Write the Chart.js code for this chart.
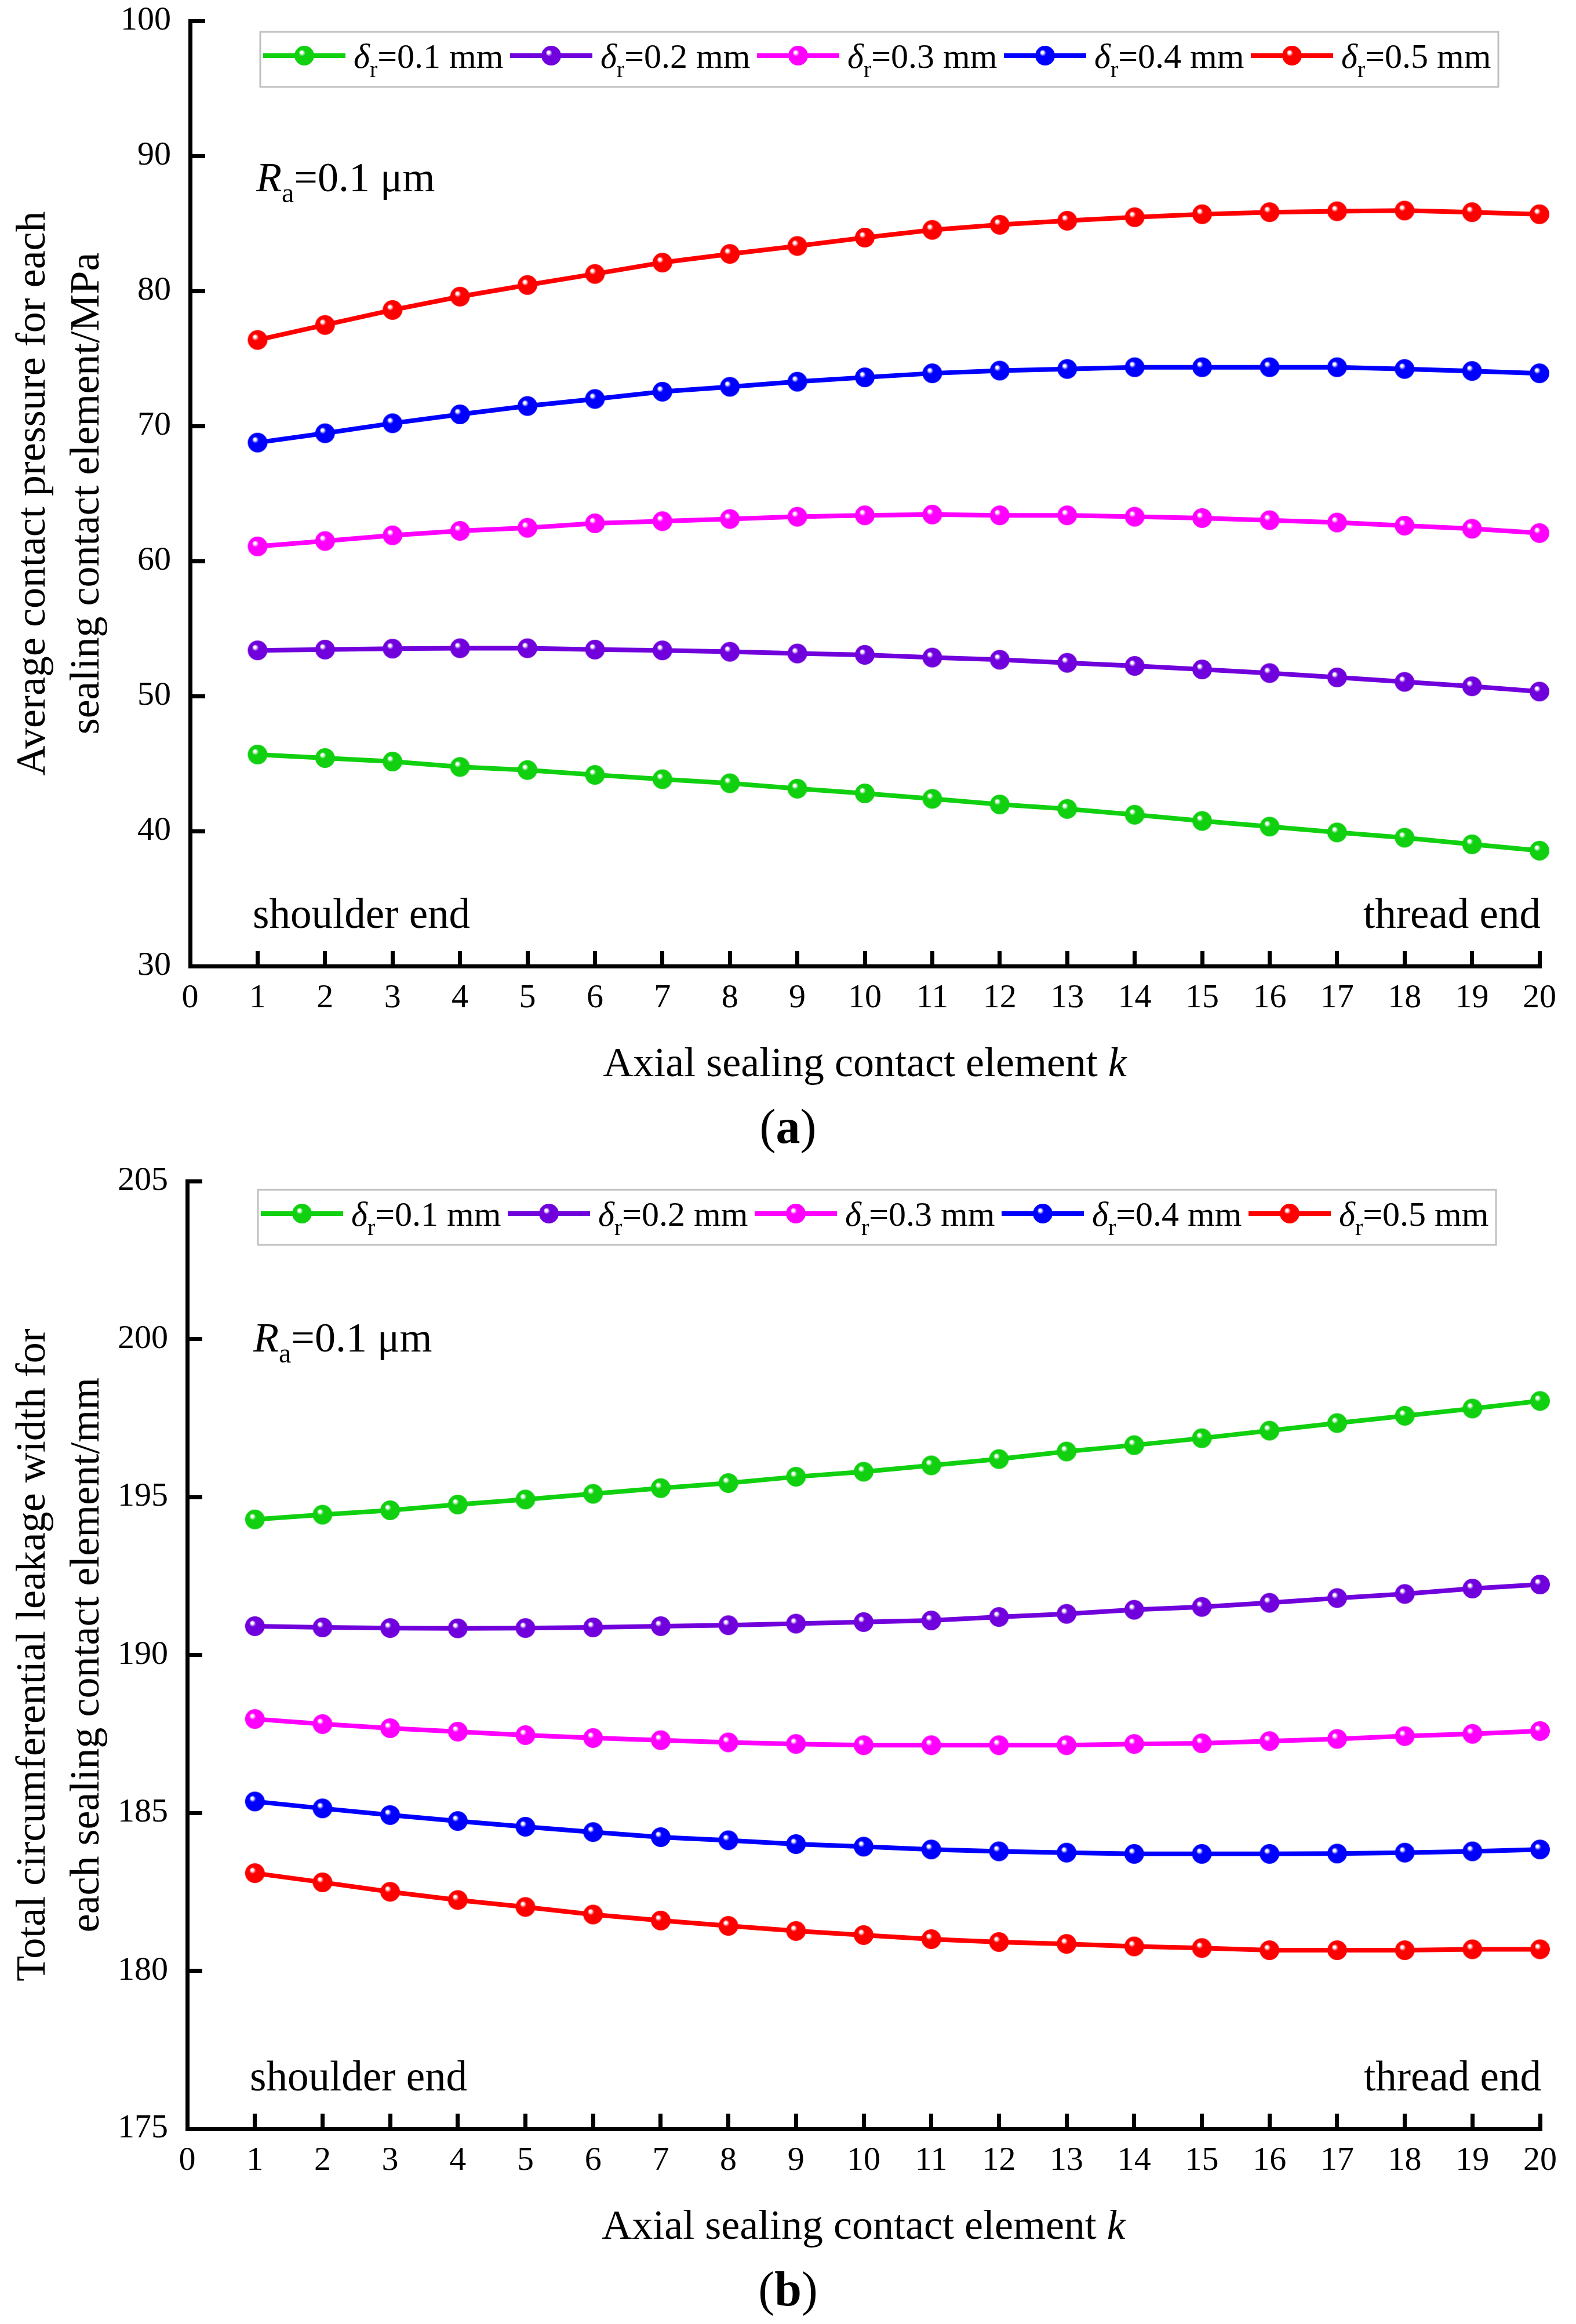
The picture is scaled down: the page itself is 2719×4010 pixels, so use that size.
<!DOCTYPE html>
<html>
<head>
<meta charset="utf-8">
<script src="https://cdn.jsdelivr.net/npm/chart.js@4.4.1/dist/chart.umd.min.js"></script>
<style>
  html,body{margin:0;padding:0;background:#fff;}
  canvas{display:block;}
</style>
</head>
<body>
<canvas id="chartA" width="2719" height="2005"></canvas>
<canvas id="chartB" width="2719" height="2005"></canvas>
<script>
// axial sealing contact element k
const kValues = [1,2,3,4,5,6,7,8,9,10,11,12,13,14,15,16,17,18,19,20];
const gapLabels = ['0.1','0.2','0.3','0.4','0.5'];
const lineColors = ['#10d010','#7000dc','#ff00ff','#0000ff','#ff0000'];

// (a) average contact pressure, MPa
const pressure01 = [45.67,45.41,45.15,44.75,44.52,44.16,43.84,43.54,43.14,42.79,42.39,41.97,41.64,41.21,40.75,40.33,39.90,39.51,39.02,38.55];
const pressure02 = [53.38,53.44,53.51,53.54,53.54,53.44,53.38,53.28,53.15,53.05,52.85,52.69,52.46,52.23,51.97,51.70,51.38,51.05,50.72,50.33];
const pressure03 = [61.08,61.48,61.90,62.23,62.46,62.79,62.95,63.11,63.28,63.38,63.44,63.38,63.38,63.28,63.18,63.02,62.85,62.62,62.39,62.07];
const pressure04 = [68.77,69.46,70.20,70.86,71.48,72.00,72.54,72.90,73.28,73.60,73.90,74.10,74.22,74.35,74.35,74.35,74.35,74.22,74.07,73.90];
const pressure05 = [76.37,77.48,78.59,79.58,80.44,81.26,82.10,82.74,83.33,83.95,84.52,84.90,85.20,85.46,85.68,85.83,85.90,85.95,85.83,85.68];

// (b) total circumferential leakage width, mm
const width01 = [194.29,194.44,194.58,194.76,194.92,195.10,195.28,195.44,195.64,195.80,196.00,196.20,196.44,196.64,196.86,197.10,197.34,197.57,197.80,198.04];
const width02 = [190.91,190.87,190.85,190.84,190.85,190.87,190.91,190.94,190.99,191.04,191.09,191.20,191.30,191.43,191.52,191.65,191.80,191.93,192.10,192.23];
const width03 = [187.97,187.81,187.68,187.57,187.46,187.37,187.30,187.23,187.18,187.14,187.14,187.14,187.14,187.18,187.20,187.27,187.34,187.43,187.50,187.59];
const width04 = [185.36,185.14,184.93,184.74,184.56,184.39,184.23,184.13,184.01,183.93,183.84,183.78,183.74,183.70,183.70,183.70,183.71,183.74,183.78,183.84];
const width05 = [183.09,182.80,182.50,182.24,182.02,181.78,181.59,181.42,181.26,181.13,181.00,180.91,180.85,180.77,180.72,180.65,180.65,180.65,180.68,180.68];

const SERIF = '"Liberation Serif","Times New Roman",serif';

// shaded ball marker, like the Origin sphere symbol
function ball(color){
  const c = document.createElement('canvas');
  c.width = c.height = 36;
  const g = c.getContext('2d');
  const grd = g.createRadialGradient(13,12,0.5,17,17,18);
  grd.addColorStop(0,'#ffffff');
  grd.addColorStop(0.09,'#ffffff');
  grd.addColorStop(0.3,color);
  grd.addColorStop(1,color);
  g.fillStyle = grd;
  g.beginPath(); g.arc(18,18,17,0,Math.PI*2); g.fill();
  return c;
}
const balls = lineColors.map(ball);

// draw a row of text pieces with their own fonts
function runs(ctx, x, y, parts, align){
  let w = 0;
  parts.forEach(p=>{ ctx.font = p.f; w += ctx.measureText(p.t).width; });
  let cx = align==='center' ? x - w/2 : align==='right' ? x - w : x;
  ctx.textAlign = 'left'; ctx.textBaseline = 'alphabetic'; ctx.fillStyle = '#000';
  parts.forEach(p=>{ ctx.font = p.f; ctx.fillText(p.t, cx, y + (p.dy||0)); cx += ctx.measureText(p.t).width; });
}

const annot = {
  id:'annot',
  afterDraw(chart, args, o){
    const {ctx, chartArea:a} = chart;
    ctx.save();
    // legend box
    const bx = a.left + o.legendDx, by = a.top + o.legendDy;
    ctx.strokeStyle = '#c0c0c0'; ctx.lineWidth = 3;
    ctx.strokeRect(bx, by, 2136, 95);
    chart.data.datasets.forEach((ds,i)=>{
      const x0 = bx + 5 + i*426, ly = by + 41;
      ctx.strokeStyle = ds.borderColor; ctx.lineWidth = 8;
      ctx.beginPath(); ctx.moveTo(x0, ly); ctx.lineTo(x0+142, ly); ctx.stroke();
      ctx.drawImage(ds.pointStyle, x0+71-18, ly-18);
      runs(ctx, x0+156, by+62, [
        {t:'δ', f:'italic 60px '+SERIF},
        {t:'r', f:'40px '+SERIF, dy:16},
        {t:'=' + gapLabels[i] + ' mm', f:'60px '+SERIF}
      ], 'left');
    });
    // roughness note
    runs(ctx, a.left+114, a.top+294, [
      {t:'R', f:'italic 72px '+SERIF},
      {t:'a', f:'48px '+SERIF, dy:19},
      {t:'=0.1 μm', f:'72px '+SERIF}
    ], 'left');
    runs(ctx, a.left+108, a.bottom-66, [{t:'shoulder end', f:'73px '+SERIF}], 'left');
    runs(ctx, a.right+2, a.bottom-66, [{t:'thread end', f:'73px '+SERIF}], 'right');
    // x axis title
    runs(ctx, (a.left+a.right)/2, a.bottom+190, [
      {t:'Axial sealing contact element ', f:'72px '+SERIF},
      {t:'k', f:'italic 72px '+SERIF}
    ], 'center');
    // panel tag
    runs(ctx, chart.width/2, a.bottom+305, [
      {t:'(', f:'84px '+SERIF},
      {t:o.tag, f:'bold 84px '+SERIF},
      {t:')', f:'84px '+SERIF}
    ], 'center');
    ctx.restore();
  }
};

function makeChart(id, series, yMin, yMax, yStep, yTitle, tag, lay){
  const datasets = series.map((vals,i)=>({
    label:'δr=' + gapLabels[i] + ' mm',
    data: kValues.map((k,j)=>({x:k, y:vals[j]})),
    borderColor: lineColors[i],
    backgroundColor: lineColors[i],
    borderWidth: 8,
    pointStyle: balls[i],
    pointRadius: 17,
    tension: 0,
    clip: false
  }));
  const axisCommon = {
    border:{display:true, color:'#000', width:7},
    grid:{drawOnChartArea:false, drawTicks:true, tickLength:-26, tickWidth:7, tickColor:'#000', color:'#000'},
  };
  return new Chart(document.getElementById(id), {
    type:'line',
    data:{datasets},
    options:{
      responsive:false,
      animation:false,
      devicePixelRatio:1,
      layout:{padding:{left:0, top:lay.top, right:lay.right, bottom:0}},
      plugins:{
        legend:{display:false},
        tooltip:{enabled:false},
        annot:{tag, legendDx:lay.legendDx, legendDy:lay.legendDy}
      },
      scales:{
        x:{
          type:'linear', min:0, max:20,
          ...axisCommon,
          ticks:{stepSize:1, color:'#000', padding:47, font:{family:SERIF, size:58}, maxRotation:0, autoSkip:false},
          afterFit(s){ s.height = 2005 - lay.bottom; s.paddingLeft = 0; s.paddingRight = 0; }
        },
        y:{
          min:yMin, max:yMax,
          ...axisCommon,
          ticks:{stepSize:yStep, color:'#000', padding:59, font:{family:SERIF, size:58}},
          title:{display:true, text:yTitle, color:'#000', padding:{top:12, bottom:0}, font:{family:SERIF, size:72, lineHeight:1.29}},
          afterFit(s){ s.width = lay.left; s.paddingTop = 0; s.paddingBottom = 0; }
        }
      }
    },
    plugins:[annot]
  });
}

makeChart('chartA', [pressure01,pressure02,pressure03,pressure04,pressure05], 30, 100, 10,
  ['Average contact pressure for each','sealing contact element/MPa'], 'a',
  {left:328, right:63, top:36, bottom:1667, legendDx:121, legendDy:19});

makeChart('chartB', [width01,width02,width03,width04,width05], 175, 205, 5,
  ['Total circumferential leakage width for','each sealing contact element/mm'], 'b',
  {left:323, right:62, top:33, bottom:1668, legendDx:122, legendDy:15});
</script>
</body>
</html>
